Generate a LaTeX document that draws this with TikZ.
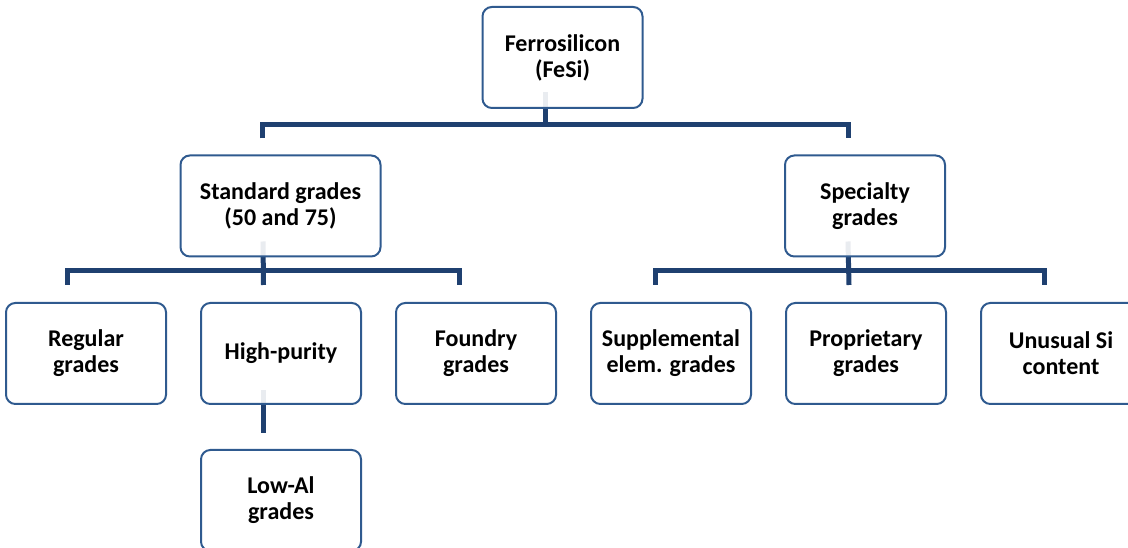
\documentclass[tikz,border=0pt]{standalone}
\usepackage{fontspec}
\setmainfont{Carlito}
\usepackage{tikz}
\usetikzlibrary{positioning, calc, backgrounds}
\definecolor{navy}{RGB}{31,64,112}
\definecolor{boxblue}{RGB}{47,90,143}
\tikzset{
  grade/.style={rectangle, rounded corners=7pt, draw=boxblue, line width=1.5pt,
                fill=white, fill opacity=0.9, text opacity=1,
                font=\fontsize{18}{19.5}\selectfont\bfseries,
                minimum width=#1, minimum height=75.75pt,
                inner sep=0pt, outer sep=0pt, align=center},
  grade/.default=120pt,
  conn/.style={navy, line width=3.75pt, line join=miter},
}

\begin{document}
\begin{tikzpicture}[x=0.75pt, y=-0.75pt, node distance=0pt and 26.25pt]
  \useasboundingbox (0,0) rectangle (1128,548);
  %% Level 1
  \node[grade] (fesi) at (562.5,57.5) {Ferrosilicon\\(FeSi)};
  \node[grade=150pt] (std) at (280.5,206) {Standard grades\\(50 and 75)};
  \node[grade] (spec) at (865,206) {Specialty\\grades};
  %% Level 2
  \node[grade] (reg) at (86,353.5) {Regular\\grades};
  \node[grade, right=of reg] (hp)   {High-purity};
  \node[grade, right=of hp]  (fdy)  {Foundry\\grades};
  \node[grade, right=of fdy] (sup)  {Supplemental\\elem. grades};
  \node[grade, right=of sup] (prop) {Proprietary\\grades};
  \node[grade, right=of prop](unu)  {Unusual Si\\content};
  %% Level 3
  \node[grade, below=34.5pt of hp] (lal) {Low-Al\\grades};
  \begin{scope}[on background layer]
    \draw[conn] ($(fesi.south)+(-17.5,-16)$) -- ++(0,32);
    \draw[conn] ($(std.north)+(-18.5,-17)$) -- ++(0,-14) -| ($(spec.north)+(-17,-17)$);
    \draw[conn] ($(std.south)+(-17.5,-15)$) -- ($(hp.north)+(-17.5,-18)$);
    \draw[conn] ($(reg.north)+(-19,-18)$) -- ++(0,-14) -| ($(fdy.north)+(-17,-18)$);
    \draw[conn] ($(spec.south)+(-17,-15)$) -- ($(prop.north)+(-17,-18)$);
    \draw[conn] ($(sup.north)+(-16,-18)$) -- ++(0,-14) -| ($(unu.north)+(-17,-18)$);
    \draw[conn] ($(hp.south)+(-18,-14)$) -- ($(lal.north)+(-18,-17)$);
  \end{scope}
\end{tikzpicture}
\end{document}
